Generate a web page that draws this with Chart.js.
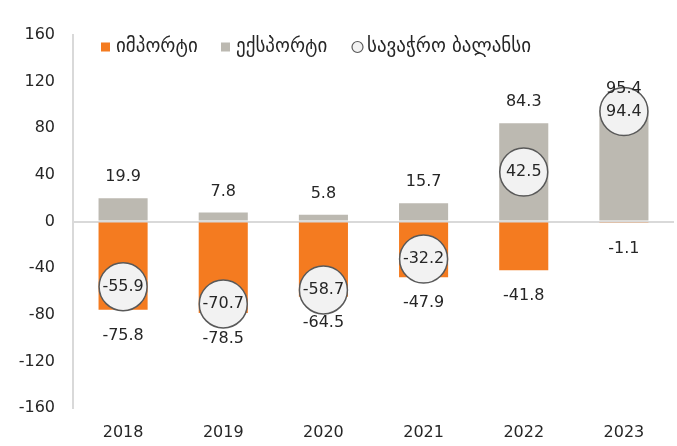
<!DOCTYPE html>
<html>
<head>
<meta charset="utf-8">
<script src="https://cdn.jsdelivr.net/npm/chart.js@4.4.1/dist/chart.umd.min.js"></script>
<style>
  html, body { margin: 0; padding: 0; background: #fff; overflow: hidden; }
  canvas { display: block; }
</style>
</head>
<body>
<canvas id="chart" width="677" height="446"></canvas>
<script>
const years = ['2018', '2019', '2020', '2021', '2022', '2023'];
const imports = [-75.8, -78.5, -64.5, -47.9, -41.8, -1.1];
const exports = [19.9, 7.8, 5.8, 15.7, 84.3, 95.4];
const balance = [-55.9, -70.7, -58.7, -32.2, 42.5, 94.4];
const seriesNames = ['იმპორტი', 'ექსპორტი', 'სავაჭრო ბალანსი'];
const yTicks = [-160, -120, -80, -40, 0, 40, 80, 120, 160];

const FONT = '"DejaVu Sans", sans-serif';
const TEXT = '#262626';

// value labels: above export bars, below import bars, inside the circles
const valueLabels = {
  id: 'valueLabels',
  afterDatasetsDraw(chart) {
    const ctx = chart.ctx;
    ctx.save();
    ctx.font = '16px ' + FONT;
    ctx.fillStyle = TEXT;
    ctx.textAlign = 'center';
    ctx.textBaseline = 'middle';
    chart.data.datasets.forEach((ds, i) => {
      const meta = chart.getDatasetMeta(i);
      meta.data.forEach((el, j) => {
        const v = ds.data[j];
        let y = el.y;
        if (ds.kind === 'exp') y = el.y - 21;
        if (ds.kind === 'imp') y = el.y + 26;
        ctx.fillText(v.toFixed(1), el.x, y);
      });
    });
    ctx.restore();
  }
};

// legend sits inside the plot area, in one row near the top
const insideLegend = {
  id: 'insideLegend',
  afterDraw(chart) {
    const ctx = chart.ctx;
    const boxX = [101, 221, 352];
    const cy = 47;
    ctx.save();
    ctx.font = '19px ' + FONT;
    ctx.textBaseline = 'middle';
    ctx.textAlign = 'left';
    chart.data.datasets.forEach((ds, i) => {
      const x = boxX[i];
      if (ds.kind === 'bal') {
        ctx.beginPath();
        ctx.arc(x + 5.5, cy, 5.5, 0, Math.PI * 2);
        ctx.fillStyle = ds.backgroundColor;
        ctx.fill();
        ctx.lineWidth = 1.2;
        ctx.strokeStyle = ds.borderColor;
        ctx.stroke();
      } else {
        ctx.fillStyle = ds.backgroundColor;
        ctx.fillRect(x, cy - 4.5, 9, 9);
      }
      ctx.fillStyle = TEXT;
      ctx.fillText(ds.label, x + 15, cy);
    });
    ctx.restore();
  }
};

const ctx = document.getElementById('chart').getContext('2d');
new Chart(ctx, {
  type: 'bar',
  data: {
    labels: years,
    datasets: [
      {
        label: seriesNames[0],
        kind: 'imp',
        data: imports,
        backgroundColor: '#F47B20',
        stack: 'trade',
        order: 2,
      },
      {
        label: seriesNames[1],
        kind: 'exp',
        data: exports,
        backgroundColor: '#BCB9B1',
        stack: 'trade',
        order: 2,
      },
      {
        type: 'line',
        label: seriesNames[2],
        kind: 'bal',
        data: balance,
        showLine: false,
        stack: 'bal',
        backgroundColor: '#F2F2F2',
        borderColor: '#595959',
        borderWidth: 1.5,
        pointStyle: 'circle',
        pointRadius: 24,
        pointHoverRadius: 24,
        pointBackgroundColor: '#F2F2F2',
        pointBorderColor: '#595959',
        pointBorderWidth: 1.5,
        order: 0,
      },
    ],
  },
  options: {
    responsive: false,
    animation: false,
    layout: { autoPadding: false, padding: { top: 35, right: 3, bottom: 4, left: 0 } },
    categoryPercentage: 0.7,
    barPercentage: 0.7,
    plugins: {
      tooltip: { enabled: false },
      legend: { display: false },
    },
    scales: {
      x: {
        stacked: true,
        afterFit: (scale) => { scale.height = 34; },
        grid: { display: false, drawTicks: false },
        border: { display: false },
        ticks: { color: TEXT, font: { family: FONT, size: 16 }, padding: 15 },
      },
      y: {
        stacked: true,
        min: -160,
        max: 160,
        afterBuildTicks: (scale) => { scale.ticks = yTicks.map(v => ({ value: v })); },
        afterFit: (scale) => { scale.width = 73; },
        grid: {
          drawTicks: false,
          color: (c) => (c.tick && c.tick.value === 0 ? '#D9D9D9' : 'rgba(0,0,0,0)'),
          lineWidth: 2,
        },
        border: { display: true, color: '#D9D9D9', width: 2 },
        ticks: { color: TEXT, font: { family: FONT, size: 16 }, padding: 18 },
      },
    },
  },
  plugins: [valueLabels, insideLegend],
});
</script>
</body>
</html>
